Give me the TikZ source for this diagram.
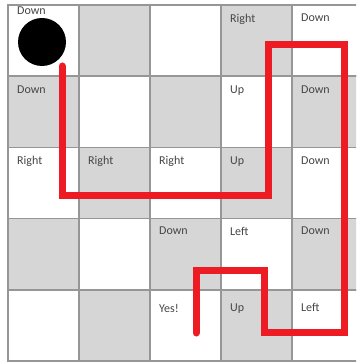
\documentclass[tikz,border=0pt]{standalone}
\usepackage{fontspec}
\setmainfont{Carlito}
\usetikzlibrary{calc}

\definecolor{cellgray}{RGB}{214,214,214}
\definecolor{gridgray}{RGB}{150,150,150}
\definecolor{pathred}{RGB}{237,28,36}
\definecolor{textgray}{RGB}{70,70,70}

\begin{document}
\begin{tikzpicture}[
  x=1pt, y=-1pt,
  cell/.style={rectangle, draw=gridgray, line width=1.4pt, minimum width=71pt, minimum height=71.2pt, inner sep=0pt, outer sep=0pt},
  hint/.style={anchor=north west, inner sep=0pt, font=\fontsize{12}{14}\selectfont, text=textgray},
  route/.style={draw=pathred, line width=7pt, line cap=round, line join=miter}
]
  \useasboundingbox (0,0) rectangle (356,363);
  \clip (0,0) rectangle (356,363);
  % checkerboard
  \foreach \r in {0,...,4}
    \foreach \c in {0,...,4} {
      \ifodd\numexpr\r+\c\relax \def\cellfill{cellgray}\else \def\cellfill{white}\fi
      \node[cell, fill=\cellfill] (c-\r-\c) at (43.5+71*\c, 40.6+71.2*\r) {};
    }
  % directions
  \foreach \r/\c/\word/\dy in {0/0/Down/2, 0/3/Right/9, 0/4/Down/9,
      1/0/Down/9, 1/3/Up/9, 1/4/Down/9,
      2/0/Right/9, 2/1/Right/9, 2/2/Right/9, 2/3/Up/9, 2/4/Down/9,
      3/2/Down/8, 3/3/Left/8, 3/4/Down/8,
      4/2/Yes!/14, 4/3/Up/14, 4/4/Left/13}
    \node[hint] (t-\r-\c) at ($(c-\r-\c.north west)+(9,\dy)$) {\word};
  \node[circle, fill=black, minimum size=48pt, inner sep=0pt] (ball) at (42,42) {};
  % route
  \coordinate (start) at (62,66);
  \coordinate (goal) at (196,333);
  \draw[route] (start) |- (268,195) |- (344,45) |- (264,332) |- (196,270) -- (goal);
\end{tikzpicture}
\end{document}
